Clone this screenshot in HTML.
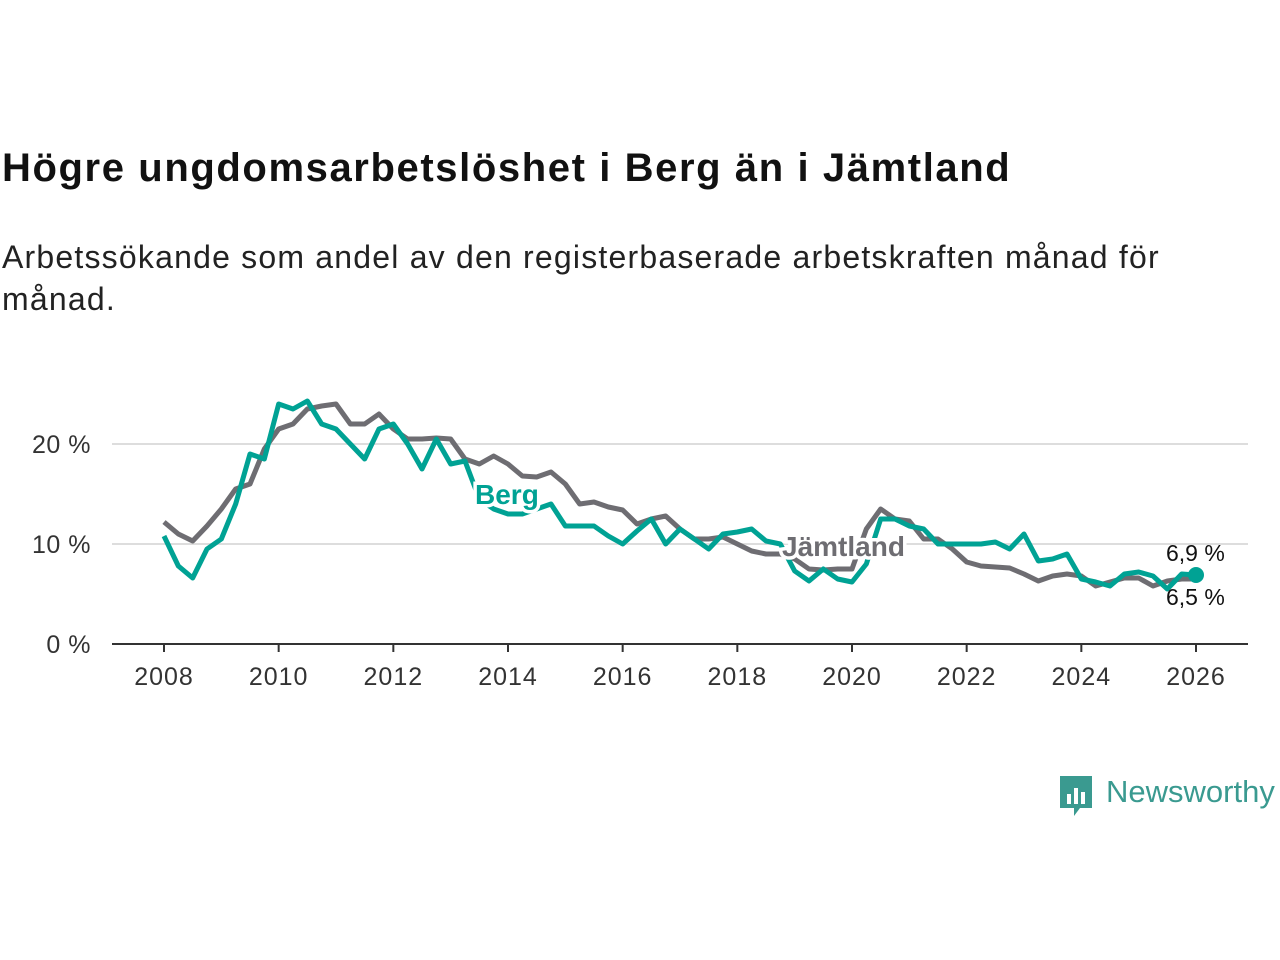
<!DOCTYPE html>
<html><head><meta charset="utf-8"><style>
body{margin:0;width:1280px;height:960px;background:#fff;font-family:"Liberation Sans",sans-serif;overflow:hidden;position:relative}
h1{position:absolute;left:2px;top:146px;margin:0;font-size:40px;font-weight:bold;color:#111;letter-spacing:1.6px}
p{position:absolute;left:2px;top:236px;margin:0;font-size:32px;line-height:42px;color:#222;width:1200px;letter-spacing:1.2px}
svg{position:absolute;left:0;top:0}
</style></head><body>
<h1>Högre ungdomsarbetslöshet i Berg än i Jämtland</h1>
<p>Arbetssökande som andel av den registerbaserade arbetskraften månad för månad.</p>
<svg id="c" width="1280" height="960"></svg>
<script>
const years=[2008,2010,2012,2014,2016,2018,2020,2022,2024,2026];
const yTicks=[0,10,20];
const jamtland=[12.2,11,10.3,11.8,13.5,15.5,16,19.5,21.5,22,23.5,23.8,24,22,22,23,21.5,20.5,20.5,20.6,20.5,18.5,18,18.8,18,16.8,16.7,17.2,16,14,14.2,13.7,13.4,12,12.5,12.8,11.5,10.5,10.5,10.7,10,9.3,9,9,8.5,7.5,7.4,7.5,7.5,11.5,13.5,12.5,12.3,10.5,10.5,9.5,8.2,7.8,7.7,7.6,7,6.3,6.8,7,6.8,5.8,6.2,6.6,6.6,5.8,6.3,6.5,6.5];
const berg=[10.8,7.8,6.6,9.5,10.5,14,19,18.5,24,23.5,24.3,22,21.5,20,18.5,21.5,22,20,17.5,20.5,18,18.3,14.5,13.5,13,13,13.5,14,11.8,11.8,11.8,10.8,10,11.3,12.5,10,11.5,10.5,9.5,11,11.2,11.5,10.3,10,7.3,6.3,7.5,6.5,6.2,8,12.5,12.5,11.8,11.5,10,10,10,10,10.2,9.5,11,8.3,8.5,9,6.5,6.2,5.8,7,7.2,6.8,5.5,7,6.9];
const startYear=2008, step=0.25;
const X=v=>164+(v-2008)*(1196-164)/18;
const Y=v=>644-v*10;
const svg=document.getElementById('c');
const NS='http://www.w3.org/2000/svg';
function mk(t,a){const e=document.createElementNS(NS,t);for(const k in a)e.setAttribute(k,a[k]);svg.appendChild(e);return e;}
yTicks.forEach(t=>{
  if(t>0){const g=mk('line',{x1:112,x2:1248,y1:Y(t),y2:Y(t),stroke:'#ddd','stroke-width':2});
  
  }
  const l=mk('text',{x:91,y:Y(t)+9,'text-anchor':'end','font-size':25,fill:'#333','letter-spacing':0.5});l.textContent=t+' %';
  
  
});
const ax=mk('line',{x1:112,x2:1248,y1:644,y2:644,stroke:'#333','stroke-width':2});


years.forEach(y=>{
  mk('line',{x1:X(y),x2:X(y),y1:644,y2:652,stroke:'#333','stroke-width':2});
  const l=mk('text',{x:X(y),y:685,'text-anchor':'middle','font-size':25,fill:'#333','letter-spacing':1});l.textContent=y;
  
  
});
function line(d,col,name){
  const pts=d.map((v,i)=>X(startYear+i*step)+','+Y(v)).join(' ');
  const p=mk('polyline',{points:pts,fill:'none',stroke:col,'stroke-width':5,'stroke-linejoin':'round'});
  
  
}
line(jamtland,'#6e6d72','jamtland-line');
line(berg,'#00a294','berg-line');
function lab(x,y,t,col,name,bold,size,anchor){
  const l=mk('text',{x:x,y:y,'font-size':size||28,'font-weight':bold?'bold':'normal',fill:col,stroke:'#fff','stroke-width':bold?7:0,'paint-order':'stroke','text-anchor':anchor||'start'});
  l.textContent=t;
  
  
}
lab(475,504,'Berg','#00a294','berg-label',true);
lab(782,556,'Jämtland','#6e6d72','jamtland-label',true);
const dot=mk('circle',{cx:X(2026),cy:Y(berg[berg.length-1]),r:8,fill:'#00a294'});


lab(1166,561,'6,9 %','#111','berg-end-label',false,23);
lab(1166,605,'6,5 %','#111','jamtland-end-label',false,23);
</script>
<div style="position:absolute;left:1058px;top:774px;display:flex;align-items:center">
<svg width="36" height="44" style="position:static"><path d="M2 2h32v32H22l-6 8v-8H2z" fill="#3a9a90"/><rect x="9" y="20" width="4" height="10" fill="#fff"/><rect x="16" y="14" width="4" height="16" fill="#fff"/><rect x="23" y="18" width="4" height="12" fill="#fff"/></svg>
<span style="font-size:31px;color:#3a9a90;margin-left:12px;margin-top:-8px">Newsworthy</span></div>
</body></html>
